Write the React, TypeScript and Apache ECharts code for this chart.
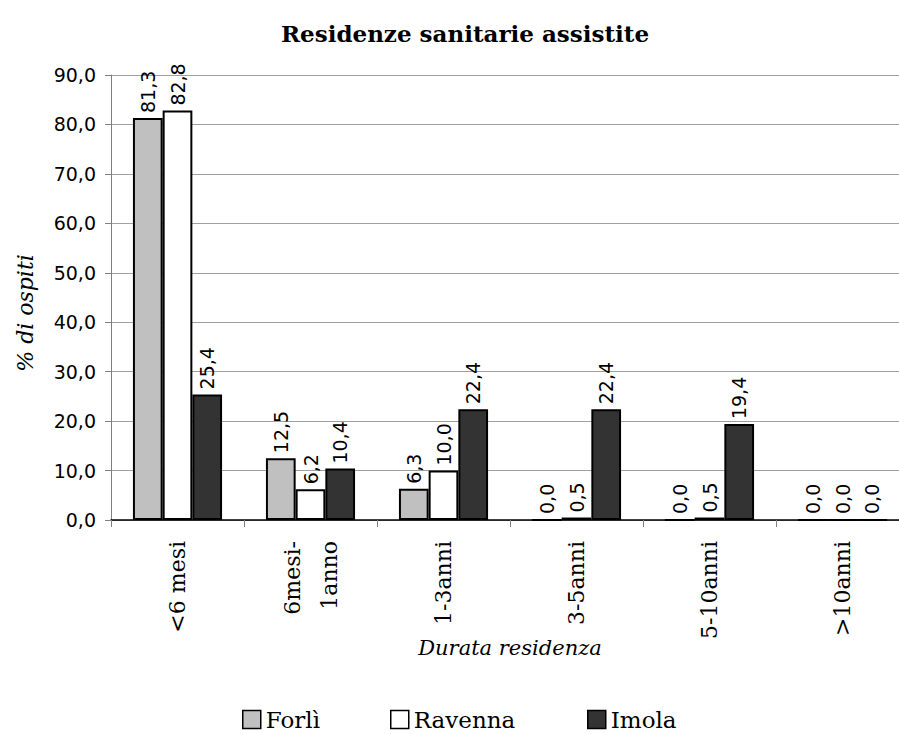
import React, { useEffect, useRef } from "react";
import * as echarts from "echarts";

const categories = ["<6 mesi", "6mesi-\n1anno", "1-3anni", "3-5anni", "5-10anni", ">10anni"];
const forli = [81.3, 12.5, 6.3, 0.0, 0.0, 0.0];
const ravenna = [82.8, 6.2, 10.0, 0.5, 0.5, 0.0];
const imola = [25.4, 10.4, 22.4, 22.4, 19.4, 0.0];
const seriesNames = ["Forlì", "Ravenna", "Imola"];
const seriesColors = ["#C0C0C0", "#FFFFFF", "#333333"];

const SERIF = "'DejaVu Serif', serif";
const SANS = "'DejaVu Sans', sans-serif";
const fmt = (v: number) => v.toFixed(1).replace(".", ",");

export default function App() {
  const ref = useRef<HTMLDivElement>(null);
  useEffect(() => {
    document.body.style.margin = "0";
    if (!ref.current) return;
    const chart = echarts.init(ref.current, undefined, { renderer: "svg" });
    const dataSets = [forli, ravenna, imola];
    const legendLefts = [237, 385, 582];
    chart.setOption({
      animation: false,
      backgroundColor: "#FFFFFF",
      title: {
        text: "Residenze sanitarie assistite",
        left: 460,
        top: 17,
        textAlign: "center",
        textStyle: { fontFamily: SERIF, fontWeight: "bold", fontSize: 23, color: "#000" },
      },
      graphic: [
        {
          type: "text",
          x: 25,
          y: 313,
          rotation: Math.PI / 2,
          style: {
            text: "% di ospiti",
            fontFamily: SERIF,
            fontStyle: "italic",
            fontSize: 22,
            fill: "#000",
            textAlign: "center",
            textVerticalAlign: "middle",
          },
        },
      ],
      legend: seriesNames.map((n, i) => ({
        data: [n],
        left: legendLefts[i],
        top: 703,
        icon: "rect",
        itemWidth: 18,
        itemHeight: 18,
        itemGap: 0,
        itemStyle: { borderColor: "#000", borderWidth: 1.5 },
        textStyle: { fontFamily: SERIF, fontSize: 23, color: "#000" },
      })),
      grid: { left: 111, right: -10, top: 75, bottom: 214, containLabel: false, outerBoundsMode: "none" },
      xAxis: {
        type: "category",
        data: categories,
        name: "Durata residenza",
        nameLocation: "middle",
        nameGap: 117,
        nameMoveOverlap: false,
        nameTextStyle: { fontFamily: SERIF, fontStyle: "italic", fontSize: 21, color: "#000" },
        axisLine: { lineStyle: { color: "#000", width: 1.5 } },
        axisTick: { show: true, length: 7, lineStyle: { color: "#808080" } },
        axisLabel: {
          interval: 0,
          rotate: 90,
          margin: 21,
          fontFamily: SERIF,
          fontSize: 22,
          lineHeight: 37,
          color: "#000",
        },
      },
      yAxis: {
        type: "value",
        min: 0,
        max: 90,
        interval: 10,
        axisLine: { show: true, lineStyle: { color: "#808080", width: 1 } },
        axisTick: { show: true, length: 6, lineStyle: { color: "#808080" } },
        axisLabel: {
          margin: 15,
          fontFamily: SANS,
          fontSize: 19,
          color: "#000",
          formatter: (v: number) => fmt(v),
        },
        splitLine: { show: true, lineStyle: { color: "#A0A0A0", width: 1 } },
      },
      series: seriesNames.map((n, i) => ({
        name: n,
        type: "bar",
        data: dataSets[i],
        barGap: "0%",
        barCategoryGap: "33%",
        itemStyle: { color: seriesColors[i], borderColor: "#000", borderWidth: 2 },
        label: {
          show: true,
          position: "top",
          rotate: 90,
          align: "left",
          verticalAlign: "middle",
          distance: 5,
          fontFamily: SANS,
          fontSize: 19,
          color: "#000",
          formatter: (p: any) => fmt(p.value),
        },
      })),
    });
    return () => chart.dispose();
  }, []);
  return <div ref={ref} style={{ width: 899, height: 734 }} />;
}
